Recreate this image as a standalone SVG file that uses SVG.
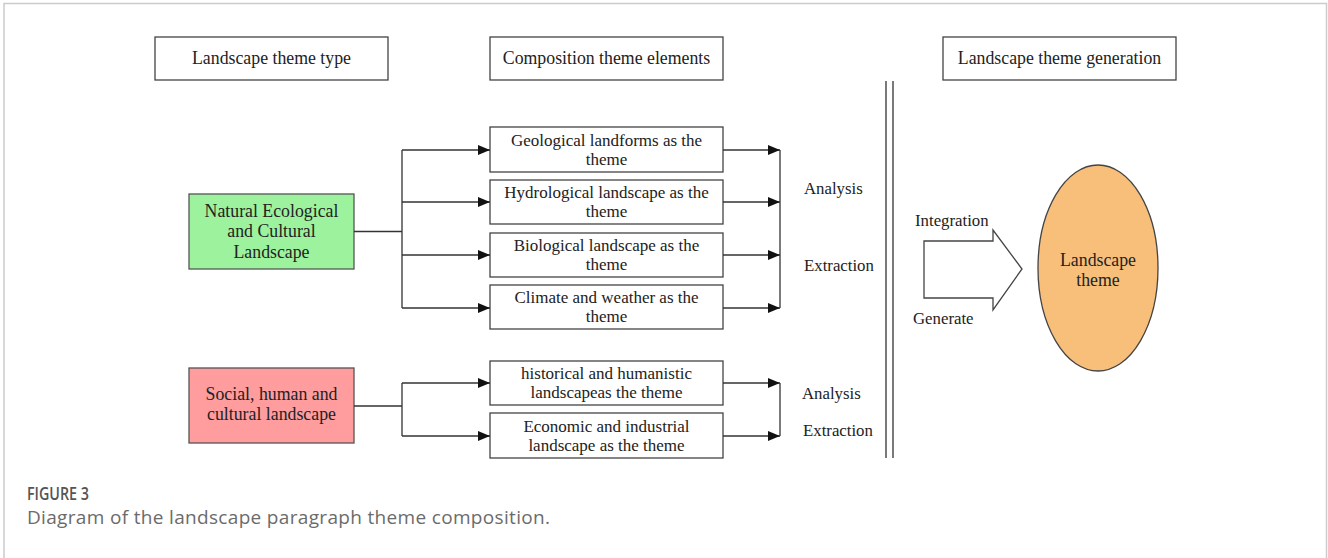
<svg xmlns="http://www.w3.org/2000/svg" width="1328" height="558" viewBox="0 0 1328 558">
  <defs>
    <marker id="arr" markerWidth="12" markerHeight="10" refX="12" refY="5" orient="auto" markerUnits="userSpaceOnUse">
      <path d="M0,0 L12,5 L0,10 Z" fill="#111"/>
    </marker>
    <style>
      .box { fill: #fff; stroke: #444; stroke-width: 1.3; }
      .t { font-family: "Liberation Serif", "Times New Roman", serif; font-size: 17px; fill: #222; text-anchor: middle; }
      .h { font-family: "Liberation Serif", "Times New Roman", serif; font-size: 17.8px; fill: #222; text-anchor: middle; }
      .tl { font-family: "Liberation Serif", "Times New Roman", serif; font-size: 16.8px; fill: #222; }
      .ln { fill: none; stroke: #333; stroke-width: 1.3; }
      .cap { font-family: "Open Sans", "Noto Sans", sans-serif; }
    </style>
  </defs>

  <!-- frame -->
  <path d="M4,558 V3.5 H1326.5 V558" fill="none" stroke="#ccc" stroke-width="1.5"/>

  <!-- column headers -->
  <g id="hdr-type">
    <rect class="box" x="155" y="37" width="233" height="43"/>
    <text class="h" x="271.5" y="64">Landscape theme type</text>
  </g>
  <g id="hdr-elements">
    <rect class="box" x="490" y="37" width="233" height="43"/>
    <text class="h" x="606.5" y="64">Composition theme elements</text>
  </g>
  <g id="hdr-generation">
    <rect class="box" x="943" y="37" width="233" height="43"/>
    <text class="h" x="1059.5" y="64">Landscape theme generation</text>
  </g>

  <!-- theme types -->
  <g id="natural">
    <rect x="189" y="194" width="165" height="75" fill="#9df29d" stroke="#555" stroke-width="1.3"/>
    <text class="h" x="271.5" y="217">Natural Ecological</text>
    <text class="h" x="271.5" y="237">and Cultural</text>
    <text class="h" x="271.5" y="258">Landscape</text>
  </g>
  <g id="social">
    <rect x="189" y="368" width="165" height="75" fill="#fe9c9e" stroke="#555" stroke-width="1.3"/>
    <text class="h" x="271.5" y="400">Social, human and</text>
    <text class="h" x="271.5" y="420">cultural landscape</text>
  </g>

  <!-- theme elements -->
  <g id="geo">
    <rect class="box" x="490" y="127" width="233" height="45"/>
    <text class="t" x="606.5" y="146">Geological landforms as the</text>
    <text class="t" x="606.5" y="165">theme</text>
  </g>
  <g id="hydro">
    <rect class="box" x="490" y="180" width="233" height="44"/>
    <text class="t" x="606.5" y="198">Hydrological landscape as the</text>
    <text class="t" x="606.5" y="217">theme</text>
  </g>
  <g id="bio">
    <rect class="box" x="490" y="233" width="233" height="44"/>
    <text class="t" x="606.5" y="251">Biological landscape as the</text>
    <text class="t" x="606.5" y="270">theme</text>
  </g>
  <g id="climate">
    <rect class="box" x="490" y="285" width="233" height="44"/>
    <text class="t" x="606.5" y="303">Climate and weather as the</text>
    <text class="t" x="606.5" y="322">theme</text>
  </g>
  <g id="historical">
    <rect class="box" x="490" y="361" width="233" height="44"/>
    <text class="t" x="606.5" y="379">historical and humanistic</text>
    <text class="t" x="606.5" y="398">landscapeas the theme</text>
  </g>
  <g id="economic">
    <rect class="box" x="490" y="413" width="233" height="45"/>
    <text class="t" x="606.5" y="432">Economic and industrial</text>
    <text class="t" x="606.5" y="451">landscape as the theme</text>
  </g>

  <!-- process labels -->
  <g id="labels">
    <text class="tl" x="804" y="194">Analysis</text>
    <text class="tl" x="804" y="271">Extraction</text>
    <text class="tl" x="802" y="399">Analysis</text>
    <text class="tl" x="803" y="436">Extraction</text>
    <text class="tl" x="915" y="226">Integration</text>
    <text class="tl" x="913" y="324">Generate</text>
  </g>

  <!-- result -->
  <g id="theme">
    <ellipse cx="1098" cy="268" rx="60" ry="103" fill="#f8bf7b" stroke="#444" stroke-width="1.3"/>
    <text class="h" x="1098" y="266">Landscape</text>
    <text class="h" x="1098" y="286">theme</text>
  </g>

  <!-- connectors -->
  <g id="connectors">
    <!-- natural branch -->
    <path class="ln" d="M354,231.5 H402 M402,150 V308"/>
    <path class="ln" d="M402,150 H490" marker-end="url(#arr)"/>
    <path class="ln" d="M402,202 H490" marker-end="url(#arr)"/>
    <path class="ln" d="M402,255 H490" marker-end="url(#arr)"/>
    <path class="ln" d="M402,308 H490" marker-end="url(#arr)"/>
    <path class="ln" d="M723,150 H780" marker-end="url(#arr)"/>
    <path class="ln" d="M723,202 H780" marker-end="url(#arr)"/>
    <path class="ln" d="M723,255 H780" marker-end="url(#arr)"/>
    <path class="ln" d="M723,308 H780" marker-end="url(#arr)"/>
    <path class="ln" d="M780,150 V308"/>
    <!-- social branch -->
    <path class="ln" d="M354,406 H402 M402,383 V436"/>
    <path class="ln" d="M402,383 H490" marker-end="url(#arr)"/>
    <path class="ln" d="M402,436 H490" marker-end="url(#arr)"/>
    <path class="ln" d="M723,383 H780" marker-end="url(#arr)"/>
    <path class="ln" d="M723,436 H780" marker-end="url(#arr)"/>
    <path class="ln" d="M780,383 V436"/>
    <!-- divider -->
    <path class="ln" d="M886,81 V458 M893,81 V458"/>
    <!-- block arrow -->
    <path d="M924,241 H993 V230 L1022,269 L993,310 V298 H924 Z" fill="#fff" stroke="#444" stroke-width="1.3"/>
  </g>

  <!-- caption -->
  <text class="cap" x="27" y="500" font-size="18" font-weight="600" fill="#555" textLength="62" lengthAdjust="spacingAndGlyphs">FIGURE 3</text>
  <text class="cap" x="27" y="524" font-size="19" fill="#6b6b6b" textLength="523" lengthAdjust="spacing">Diagram of the landscape paragraph theme composition.</text>
</svg>
